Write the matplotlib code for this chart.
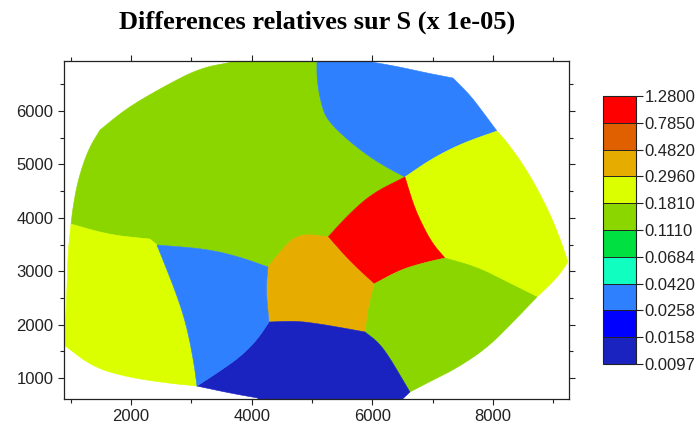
import matplotlib
matplotlib.use("Agg")
import matplotlib.pyplot as plt
from matplotlib.cm import ScalarMappable
from matplotlib.colors import BoundaryNorm, ListedColormap
from matplotlib.patches import Polygon
from matplotlib.ticker import MultipleLocator

plt.rcParams['font.family'] = ['Liberation Sans', 'DejaVu Sans']

# colour scale
levels = [0.0097, 0.0158, 0.0258, 0.0420, 0.0684, 0.1110, 0.1810, 0.2960, 0.4820, 0.7850, 1.2800]
level_colors = ['#1a22c0', '#0000ff', '#2e80ff', '#10ffc0', '#00e040',
                '#8cd600', '#dcff00', '#e6ac00', '#e06000', '#ff0000']

# zones, outlines (x, y) and the value inside each one
zone_values = [0.14, 0.033, 0.23, 0.23, 1.0, 0.14, 0.39, 0.012, 0.033]

green_top = [(3690, 6950), (3690, 6919), (3143, 6806), (2530, 6450), (1934, 6057), (1486, 5645),
             (1287, 5270), (1122, 4709), (1039, 4203), (1006, 3884), (1652, 3678), (2315, 3603),
             (2431, 3491), (3259, 3416), (3806, 3266), (4270, 3079), (4469, 3360), (4684, 3622),
             (4916, 3697), (5264, 3641), (5629, 4090), (6010, 4465), (6540, 4765),
             (6076, 5046), (5629, 5420), (5248, 5832), (5148, 6151), (5082, 6582), (5082, 6950)]
blue_top = [(5082, 6950), (5082, 6582), (5148, 6151), (5248, 5832), (5629, 5420), (6076, 5046),
            (6540, 4765), (7004, 5121), (7501, 5402), (8065, 5626), (7832, 5982),
            (7617, 6301), (7335, 6619), (6905, 6713), (6457, 6825), (5993, 6919), (5800, 6950)]
yellow_right = [(6540, 4765), (7004, 5121), (7501, 5402), (8065, 5626), (8230, 5420), (8562, 4896),
                (8893, 4203), (9109, 3622), (9241, 3173), (9059, 2873), (8728, 2517), (8230, 2798),
                (7733, 3079), (7203, 3248), (6988, 3529), (6789, 3959), (6673, 4278)]
yellow_left = [(1006, 3884), (1652, 3678), (2315, 3603), (2431, 3491), (2762, 2555), (2928, 1955),
               (3044, 1281), (3094, 850), (2597, 906), (1934, 1019), (1370, 1206), (890, 1619),
               (923, 2200), (940, 2704), (956, 3341)]
red_zone = [(6540, 4765), (6010, 4465), (5629, 4090), (5264, 3641), (5629, 3173), (6027, 2761),
            (6457, 3023), (6838, 3154), (7203, 3248), (6988, 3529), (6789, 3959), (6673, 4278)]
green_low = [(6027, 2761), (6457, 3023), (6838, 3154), (7203, 3248), (7733, 3079), (8230, 2798),
             (8728, 2517), (8330, 2049), (7899, 1562), (7402, 1187), (7004, 963), (6623, 738),
             (6457, 1056), (6258, 1431), (6093, 1674), (5877, 1862), (5927, 2330)]
orange_zone = [(4270, 3079), (4469, 3360), (4684, 3622), (4916, 3697), (5264, 3641), (5629, 3173),
               (6027, 2761), (5927, 2330), (5877, 1862), (5513, 1937), (5132, 2011), (4751, 2068),
               (4287, 2049), (4237, 2648)]
darkblue_zone = [(4287, 2049), (4751, 2068), (5132, 2011), (5513, 1937), (5877, 1862), (6093, 1674),
                 (6258, 1431), (6457, 1056), (6623, 738), (6457, 560), (4104, 560), (4104, 625),
                 (3640, 719), (3094, 850), (3425, 1094), (3806, 1393), (4088, 1712)]
blue_left = [(2431, 3491), (3259, 3416), (3806, 3266), (4270, 3079), (4237, 2648), (4287, 2049),
             (4088, 1712), (3806, 1393), (3425, 1094), (3094, 850), (3044, 1281), (2928, 1955),
             (2762, 2555)]

zones = [green_top, blue_top, yellow_right, yellow_left, red_zone,
         green_low, orange_zone, darkblue_zone, blue_left]

# points where an outline really has a kink, everything between is rounded
corners = {(3690, 6950), (5082, 6950), (5800, 6950), (2431, 3491), (2315, 3603), (1006, 3884),
           (4270, 3079), (5264, 3641), (6540, 4765), (8065, 5626), (7335, 6619), (9241, 3173),
           (8728, 2517), (7203, 3248), (6027, 2761), (5877, 1862), (4287, 2049), (6623, 738),
           (6457, 560), (4104, 560), (4104, 625), (3094, 850), (890, 1619), (1486, 5645)}

x_major = [2000, 4000, 6000, 8000]
y_major = [1000, 2000, 3000, 4000, 5000, 6000]

title = "Differences relatives sur S (x 1e-05)"


def chaikin(points, rounds=3):
    # open polyline, end points stay where they are
    for _ in range(rounds):
        new = [points[0]]
        for (x0, y0), (x1, y1) in zip(points[:-1], points[1:]):
            new.append((0.75 * x0 + 0.25 * x1, 0.75 * y0 + 0.25 * y1))
            new.append((0.25 * x0 + 0.75 * x1, 0.25 * y0 + 0.75 * y1))
        new.append(points[-1])
        points = new
    return points


def rounded(outline):
    # start from a kink, then smooth piece by piece between kinks
    start = next(i for i, p in enumerate(outline) if p in corners)
    ring = outline[start:] + outline[:start] + [outline[start]]
    result = []
    piece = [ring[0]]
    for p in ring[1:]:
        piece.append(p)
        if p in corners:
            result.extend(chaikin(piece)[:-1])
            piece = [p]
    return result


cmap = ListedColormap(level_colors)
norm = BoundaryNorm(levels, cmap.N)

fig = plt.figure(figsize=(6.97, 4.32), dpi=100)
W, H = 697.0, 432.0

# main map
ax = fig.add_axes([64 / W, 1 - 399 / H, (569 - 64) / W, (399 - 61) / H])
for outline, value in zip(zones, zone_values):
    color = cmap(norm(value))
    ax.add_patch(Polygon(rounded(outline), closed=True, facecolor=color, edgecolor=color, linewidth=0.4))

ax.set_xlim(890, 9259)
ax.set_ylim(607, 6938)
ax.set_xticks(x_major)
ax.set_yticks(y_major)
ax.xaxis.set_minor_locator(MultipleLocator(1000))
ax.yaxis.set_minor_locator(MultipleLocator(500))
ax.tick_params(which='major', direction='out', length=4.5, width=0.8, color='#222222',
               top=True, right=True, labelsize=12, labelcolor='#222222', pad=3)
ax.tick_params(which='minor', direction='out', length=3, width=0.8, color='#222222',
               top=True, right=True)
for spine in ax.spines.values():
    spine.set_linewidth(0.9)
    spine.set_color('#222222')

fig.text(317 / W, 1 - 22 / H, title, family='Liberation Serif', weight='bold',
         fontsize=19, ha='center', va='center', color='black')

# colour bar
cax = fig.add_axes([603 / W, 1 - 364 / H, 33 / W, 268 / H])
cb = fig.colorbar(ScalarMappable(norm=norm, cmap=cmap), cax=cax, spacing='uniform',
                  ticks=levels, format='%.4f', drawedges=True)
cb.minorticks_off()
cb.outline.set_linewidth(0.8)
cb.outline.set_edgecolor('#222222')
cb.dividers.set_linewidth(0.7)
cb.dividers.set_color('#222222')
cax.tick_params(direction='out', length=5, width=0.8, color='#222222',
                labelsize=12, labelcolor='#222222', pad=1)

fig.savefig("out.png", dpi=100)
